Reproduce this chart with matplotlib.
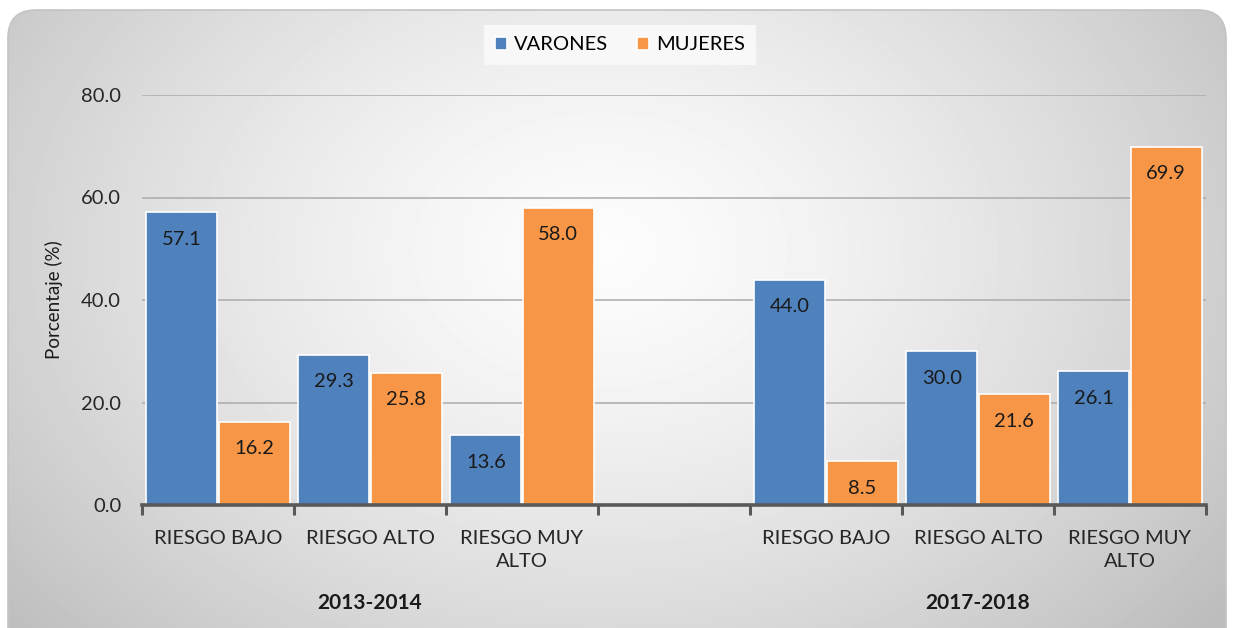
import numpy as np
import matplotlib
matplotlib.use("Agg")
import matplotlib.pyplot as plt
from matplotlib.patches import FancyBboxPatch

plt.rcParams['font.family'] = ['Lato', 'DejaVu Sans']

categories = ["RIESGO BAJO", "RIESGO ALTO", "RIESGO MUY\nALTO"]
periods = ["2013-2014", "2017-2018"]
varones = [57.1, 29.3, 13.6, 44.0, 30.0, 26.1]
mujeres = [16.2, 25.8, 58.0, 8.5, 21.6, 69.9]
yticks = [0, 20, 40, 60, 80]

BLUE = "#4F81BD"
ORANGE = "#F79646"

W, H = 1234, 628
fig = plt.figure(figsize=(W / 100, H / 100), dpi=100)
fig.patch.set_facecolor("white")

# background with radial gradient inside rounded rectangle
bg = fig.add_axes([0, 0, 1, 1])
bg.set_xlim(0, W)
bg.set_ylim(H, 0)
bg.axis("off")
yy, xx = np.mgrid[0:H, 0:W]
cx, cy = 600, 250
d = np.sqrt(((xx - cx) / 650.0) ** 2 + ((yy - cy) / 480.0) ** 2)
val = np.clip(0.99 - 0.19 * d ** 1.4, 0.74, 1.0)
img = bg.imshow(val, cmap="gray", vmin=0, vmax=1, extent=(0, W, H, 0),
                interpolation="bilinear", zorder=0)
box = FancyBboxPatch((8, 10), W - 16, H + 40, boxstyle="round,pad=0,rounding_size=28",
                     facecolor="none", edgecolor="#C4C4C4", linewidth=1.2, zorder=1)
bg.add_patch(box)
img.set_clip_path(box)

ax = fig.add_axes([142 / W, 1 - 505 / H, (1206 - 142) / W, (505 - 95) / H])
ax.patch.set_alpha(0)

centers = [0, 1, 2, 4, 5, 6]
bw = 0.466
xb = np.array(centers) - bw / 2 - 0.005
xo = np.array(centers) + bw / 2 + 0.005
b1 = ax.bar(xb, varones, width=bw, color=BLUE, edgecolor="white", linewidth=1.2, zorder=3, label="VARONES")
b2 = ax.bar(xo, mujeres, width=bw, color=ORANGE, edgecolor="white", linewidth=1.2, zorder=3, label="MUJERES")

FS = 14.5
for bars, vals in ((b1, varones), (b2, mujeres)):
    for r, v in zip(bars, vals):
        ax.annotate(f"{v:.1f}", (r.get_x() + r.get_width() / 2, v), xytext=(0, -27),
                    textcoords="offset pixels",
                    ha="center", va="center", fontsize=FS, color="#1a1a1a", zorder=4)

ax.set_xlim(-0.5, 6.5)
ax.set_ylim(0, 80)
ax.set_yticks(yticks)
ax.set_yticklabels([f"{t:.1f}" for t in yticks], fontsize=FS, color="#262626")
ax.yaxis.grid(True, color="#ABABAB", linewidth=1.1, zorder=0)
ax.set_axisbelow(True)
for s in ["top", "right", "left"]:
    ax.spines[s].set_visible(False)
ax.spines["bottom"].set_color("#595959")
ax.spines["bottom"].set_linewidth(2.6)
ax.spines["bottom"].set_zorder(5)
ax.tick_params(axis="y", length=0, pad=15)
ax.set_xticks([-0.5, 0.5, 1.5, 2.5, 3.5, 4.5, 5.5, 6.5])
ax.set_xticklabels([])
ax.tick_params(axis="x", length=7, width=2.2, color="#595959", direction="out")
ax.set_ylabel("Porcentaje (%)", fontsize=13.5, color="#1a1a1a", labelpad=13)

for i, c in enumerate(centers):
    ax.text(c, -4.8, categories[i % 3], ha="center", va="top", fontsize=FS,
            color="#262626", linespacing=1.45)
ax.text(1, -19.1, periods[0], ha="center", va="center", fontsize=15, fontweight="bold", color="#1a1a1a")
ax.text(5, -19.1, periods[1], ha="center", va="center", fontsize=15, fontweight="bold", color="#1a1a1a")

leg = ax.legend(loc="center", bbox_to_anchor=(620 / W, 1 - 45 / H), bbox_transform=fig.transFigure,
                ncol=2, frameon=True, fontsize=FS, handlelength=0.6, handleheight=0.6,
                columnspacing=1.4, handletextpad=0.35, borderpad=0.55, fancybox=False)
leg.get_frame().set_facecolor("#FAFAFA")
leg.get_frame().set_edgecolor("none")
leg.get_frame().set_alpha(0.9)

fig.savefig("out.png", dpi=100)
